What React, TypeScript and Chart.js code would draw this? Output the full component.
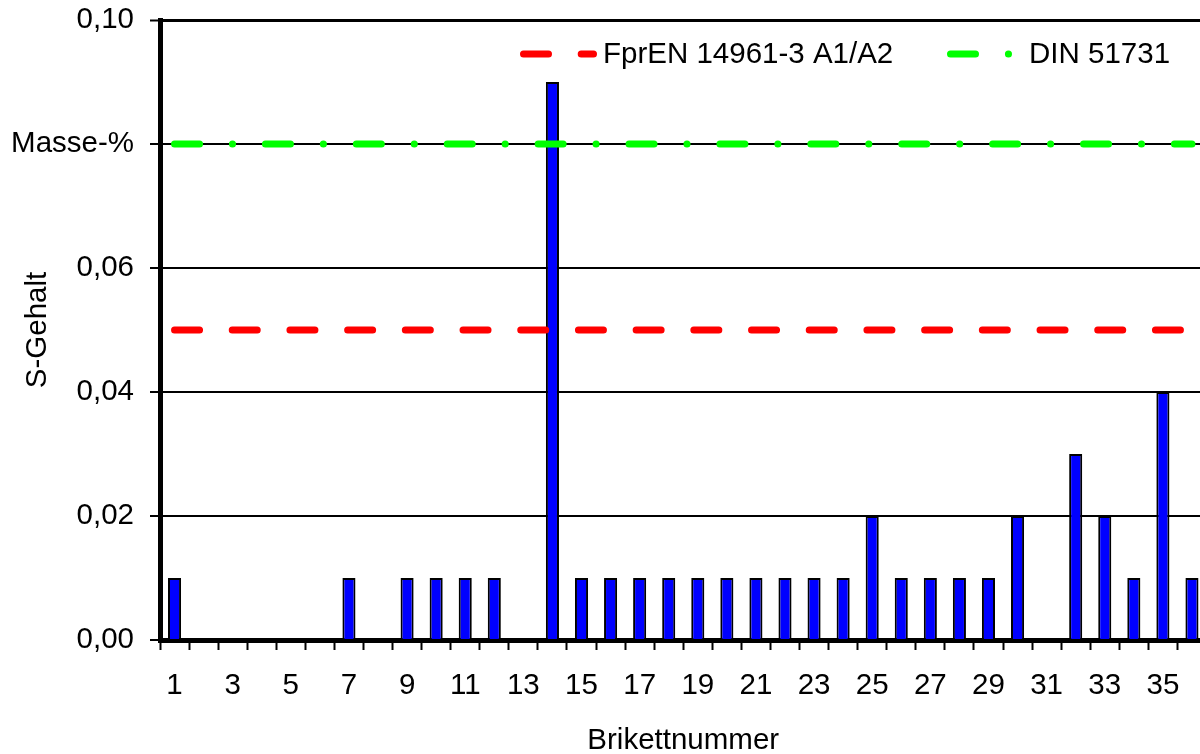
import React, { useEffect, useRef } from 'react';
import { Chart, registerables } from 'chart.js';

Chart.register(...registerables);

// ---- data ----
const categories = [
  '1', '2', '3', '4', '5', '6', '7', '8', '9', '10', '11', '12',
  '13', '14', '15', '16', '17', '18', '19', '20', '21', '22', '23', '24',
  '25', '26', '27', '28', '29', '30', '31', '32', '33', '34', '35', '36',
];
const sulfurContent = [
  0.01, 0, 0, 0, 0, 0, 0.01, 0, 0.01, 0.01, 0.01, 0.01,
  0, 0.09, 0.01, 0.01, 0.01, 0.01, 0.01, 0.01, 0.01, 0.01, 0.01, 0.01,
  0.02, 0.01, 0.01, 0.01, 0.01, 0.02, 0, 0.03, 0.02, 0.01, 0.04, 0.01,
];
const fprenLimitX = ['1', '36'];
const fprenLimitY = [0.05, 0.05];
const dinLimitX = ['1', '36'];
const dinLimitY = [0.08, 0.08];
const yTickValues = [0, 0.02, 0.04, 0.06, 0.08, 0.1];
const yTickLabels = ['0,00', '0,02', '0,04', '0,06', 'Masse-%', '0,10'];

const FONT = '"Liberation Sans", Arial, sans-serif';
const FS = 29.5;

const insideLegend = {
  id: 'insideLegend',
  afterDatasetsDraw(chart: any) {
    const ctx = chart.ctx as CanvasRenderingContext2D;
    const top = chart.chartArea.top;
    const items = [
      { ds: chart.data.datasets[0], x1: 523.5, x2: 593.5, tx: 603 },
      { ds: chart.data.datasets[1], x1: 950.5, x2: 1012, tx: 1029 },
    ];
    ctx.save();
    for (const it of items) {
      ctx.beginPath();
      ctx.strokeStyle = it.ds.borderColor;
      ctx.lineWidth = it.ds.borderWidth;
      ctx.lineCap = 'round';
      ctx.setLineDash(it.ds.borderDash);
      ctx.moveTo(it.x1, top + 34);
      ctx.lineTo(it.x2, top + 34);
      ctx.stroke();
      ctx.setLineDash([]);
      ctx.fillStyle = '#000';
      ctx.font = `${FS}px ${FONT}`;
      ctx.textAlign = 'left';
      ctx.textBaseline = 'middle';
      ctx.fillText(it.ds.label, it.tx, top + 35);
    }
    ctx.restore();
  },
};

export default function App() {
  const ref = useRef<HTMLCanvasElement>(null);

  useEffect(() => {
    if (!ref.current) return;
    Chart.defaults.font.family = FONT;
    Chart.defaults.color = '#000';
    const chart = new Chart(ref.current, {
      type: 'bar',
      data: {
        labels: categories,
        datasets: [
          {
            type: 'line',
            label: 'FprEN 14961-3 A1/A2',
            data: fprenLimitX.map((x, i) => ({ x, y: fprenLimitY[i] })),
            borderColor: '#FF0000',
            borderWidth: 7,
            borderDash: [25, 32.7],
            borderCapStyle: 'round',
            pointRadius: 0,
            fill: false,
            order: 0,
          } as any,
          {
            type: 'line',
            label: 'DIN 51731',
            data: dinLimitX.map((x, i) => ({ x, y: dinLimitY[i] })),
            borderColor: '#00FF00',
            borderWidth: 7,
            borderDash: [25, 32.9, 0.1, 32.9],
            borderCapStyle: 'round',
            pointRadius: 0,
            fill: false,
            order: 0,
          } as any,
          {
            type: 'bar',
            label: 'S-Gehalt',
            data: sulfurContent,
            backgroundColor: '#0000FF',
            borderColor: '#000000',
            borderWidth: 2,
            barPercentage: 0.45,
            categoryPercentage: 1,
            order: 1,
          } as any,
        ],
      },
      options: {
        responsive: false,
        animation: false,
        devicePixelRatio: 1,
        layout: { autoPadding: false, padding: { top: 20, right: 3.5, bottom: 0, left: 0 } },
        plugins: { legend: { display: false }, tooltip: { enabled: false } },
        scales: {
          x: {
            z: 1,
            offset: true,
            grid: {
              drawOnChartArea: false,
              offset: true,
              tickLength: 10,
              tickWidth: 2,
              tickColor: '#000',
              color: '#000',
            },
            border: { display: true, color: '#000', width: 5 },
            ticks: {
              autoSkip: false,
              maxRotation: 0,
              minRotation: 0,
              padding: 18,
              color: '#000',
              font: { size: FS },
              callback: (_v: any, i: number) => (i % 2 === 0 ? categories[i] : ''),
            },
            title: {
              display: true,
              text: 'Brikettnummer',
              color: '#000',
              font: { size: FS, lineHeight: 0.9 },
              padding: 0,
            },
            afterFit: (s: any) => {
              s.height = 114;
              s.paddingLeft = 0;
              s.paddingRight = 0;
            },
          },
          y: {
            min: 0,
            max: 0.1,
            afterBuildTicks: (s: any) => {
              s.ticks = yTickValues.map((v) => ({ value: v }));
            },
            grid: {
              color: '#000',
              lineWidth: (c: any) => (c.index === yTickValues.length - 1 ? 3 : 2),
              tickLength: 10,
              tickWidth: 2,
              tickColor: '#000',
            },
            border: { display: true, color: '#000', width: 5 },
            ticks: {
              padding: 16,
              color: '#000',
              font: { size: FS },
              callback: (_v: any, i: number) => yTickLabels[i],
            },
            title: {
              display: true,
              text: 'S-Gehalt',
              color: '#000',
              font: { size: FS },
              padding: { top: 20, bottom: 0 },
            },
            afterFit: (s: any) => {
              s.width = 160;
              s.paddingTop = 0;
              s.paddingBottom = 0;
            },
          },
        },
      } as any,
      plugins: [insideLegend],
    });
    return () => chart.destroy();
  }, []);

  return (
    <div
      style={{
        position: 'absolute',
        left: 0,
        top: 0,
        width: 1200,
        height: 754,
        overflow: 'hidden',
        background: '#fff',
      }}
    >
      <canvas
        ref={ref}
        width={1210}
        height={754}
        style={{ width: '1210px', height: '754px', display: 'block' }}
      />
    </div>
  );
}
